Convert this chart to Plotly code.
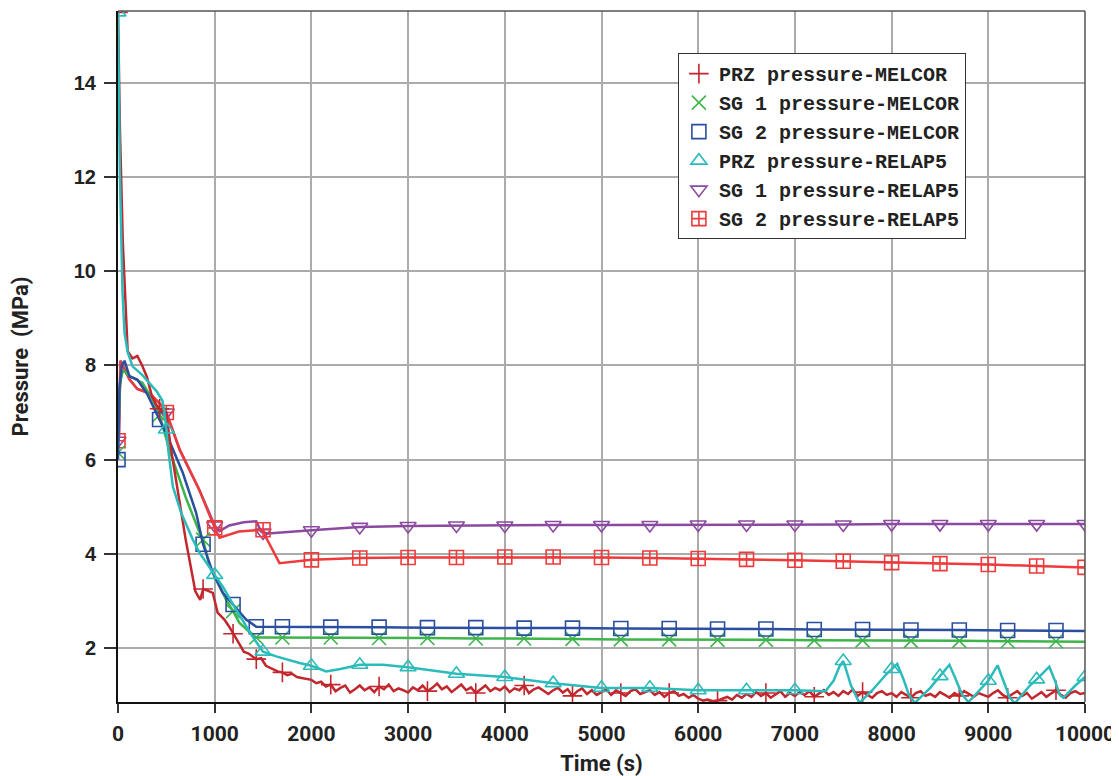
import numpy as np
import plotly.graph_objects as go

# ---------------- data ----------------
# PRZ pressure - MELCOR
prz_mel_t_early = [0, 20, 50, 100, 150, 200, 250, 300, 350, 400, 430, 500, 550, 600, 650, 700, 750, 800,
                   850, 880, 920, 980, 1030, 1100, 1150, 1190, 1250, 1300, 1350, 1430, 1480, 1530, 1600,
                   1650, 1700, 1750, 1800, 1850, 1900, 1950]
prz_mel_v_early = [15.5, 13.0, 10.6, 8.3, 8.15, 8.2, 8.0, 7.75, 7.35, 7.15, 7.08, 6.95, 6.2, 5.55, 4.85,
                   4.3, 3.75, 3.2, 3.02, 3.25, 3.22, 3.17, 2.75, 2.6, 2.45, 2.3, 2.1, 1.92, 1.88, 1.76,
                   1.78, 1.62, 1.55, 1.5, 1.48, 1.42, 1.45, 1.38, 1.36, 1.34]
prz_mel_t_late = list(range(2000, 10001, 50))
prz_mel_v_late = [
    1.32, 1.25, 1.28, 1.18, 1.22, 1.08, 1.15, 1.20, 1.05, 1.12,
    1.20, 1.10, 1.16, 1.06, 1.18, 1.12, 1.22, 1.08, 1.14, 1.10,
    1.05, 1.16, 1.10, 1.20, 1.08, 1.15, 1.24, 1.12, 1.18, 1.06,
    1.14, 1.22, 1.10, 1.16, 1.04, 1.12, 1.20, 1.08, 1.15, 1.10,
    1.18, 1.06, 1.14, 1.10, 1.20, 1.04, 1.12, 1.16, 1.08, 1.02,
    1.10, 1.15, 1.05, 1.12, 0.98, 1.08, 1.14, 1.02, 1.10, 1.00,
    1.06, 1.12, 1.00, 1.10, 1.04, 0.98, 1.08, 1.12, 1.02, 1.06,
    1.10, 1.00, 1.06, 0.96, 1.04, 1.08, 0.98, 1.02, 0.94, 1.00,
    0.92, 0.88, 0.90, 0.86, 0.88, 0.92, 0.96, 0.90, 1.00, 0.94,
    1.02, 0.96, 1.06, 0.98, 1.04, 0.94, 1.02, 1.08, 0.96, 1.04,
    0.98, 1.06, 1.00, 1.08, 0.96, 1.04, 1.10, 1.00, 1.06, 0.98,
    1.08, 1.02, 1.12, 0.98, 1.06, 1.00, 0.94, 1.04, 1.08, 1.00,
    1.04, 0.96, 1.06, 1.00, 0.94, 1.04, 1.08, 0.98, 1.02, 0.96,
    1.06, 1.00, 0.94, 1.04, 0.98, 1.08, 1.02, 0.96, 1.04, 1.00,
    0.96, 1.04, 1.10, 1.00, 0.94, 1.02, 1.08, 0.98, 1.04, 0.92,
    1.00, 1.06, 0.96, 1.04, 1.10, 1.00, 0.94, 1.04, 1.08, 1.02,
    1.04]
prz_mel_t = prz_mel_t_early + prz_mel_t_late
prz_mel_v = prz_mel_v_early + prz_mel_v_late

# SG 1 pressure - MELCOR
sg1_mel_t = [0, 20, 50, 119, 253, 357, 430, 532, 600, 700, 843, 880, 946, 1119, 1190, 1256, 1411, 1430,
             1500, 1700, 2200, 2700, 3200, 3700, 4200, 4700, 5200, 5700, 6200, 6700, 7200, 7700, 8200,
             8700, 9200, 9700, 10000]
sg1_mel_v = [6.15, 7.6, 7.9, 7.77, 7.63, 7.28, 6.95, 6.2, 5.8, 5.2, 4.45, 4.3, 3.73, 3.02, 2.78, 2.53,
             2.24, 2.22, 2.22, 2.22, 2.22, 2.21, 2.21, 2.2, 2.2, 2.19, 2.18, 2.18, 2.17, 2.17, 2.16,
             2.16, 2.15, 2.15, 2.14, 2.14, 2.13]

# SG 2 pressure - MELCOR
sg2_mel_t = [0, 15, 40, 67, 119, 200, 300, 395, 430, 500, 670, 808, 880, 980, 1084, 1190, 1325, 1430,
             1700, 2200, 2700, 3200, 3700, 4200, 4700, 5200, 5700, 6200, 6700, 7200, 7700, 8200, 8700,
             9200, 9700, 10000]
sg2_mel_v = [6.0, 7.5, 8.0, 8.1, 7.77, 7.7, 7.4, 7.0, 6.85, 6.55, 5.72, 4.87, 4.2, 3.6, 3.17, 2.92, 2.6,
             2.45, 2.45, 2.44, 2.44, 2.43, 2.43, 2.42, 2.42, 2.41, 2.41, 2.4, 2.4, 2.39, 2.39, 2.38,
             2.38, 2.37, 2.37, 2.36]

# PRZ pressure - RELAP5
prz_rel_t = [0, 20, 47, 67, 100, 150, 250, 330, 400, 460, 480, 500, 520, 567, 653, 774, 843, 1000, 1084,
             1222, 1394, 1500, 1636, 1877, 2000, 2153, 2300, 2500, 2738, 3000, 3428, 3500, 4000, 4500,
             5000, 5500, 6000, 6500, 7000, 7316, 7400, 7460, 7500, 7520, 7580, 7667, 7800, 7950, 8000,
             8058, 8120, 8180, 8240, 8400, 8500, 8598, 8660, 8730, 8795, 8950, 9000, 9096, 9160, 9220,
             9274, 9430, 9500, 9631, 9690, 9740, 9776, 9900, 10000]
prz_rel_v = [15.5, 12.0, 9.55, 8.7, 8.28, 7.98, 7.8, 7.6, 7.45, 7.25, 7.0, 6.64, 6.2, 5.43, 4.87, 4.3,
             4.02, 3.55, 3.3, 2.81, 2.23, 1.92, 1.82, 1.68, 1.62, 1.5, 1.55, 1.64, 1.64, 1.59, 1.47,
             1.45, 1.38, 1.25, 1.15, 1.15, 1.1, 1.1, 1.1, 1.08, 1.3, 1.6, 1.72, 1.6, 1.2, 0.83, 1.1,
             1.45, 1.55, 1.66, 1.35, 1.0, 0.83, 1.15, 1.4, 1.64, 1.35, 1.0, 0.85, 1.2, 1.3, 1.63, 1.3,
             0.95, 0.82, 1.2, 1.33, 1.6, 1.3, 1.0, 0.94, 1.2, 1.38]

# SG 1 pressure - RELAP5
sg1_rel_t = [0, 10, 25, 60, 120, 200, 330, 450, 500, 640, 840, 1000, 1050, 1150, 1300, 1430, 1480, 1500,
             1550, 2000, 2500, 3000, 3500, 4000, 4500, 5000, 5500, 6000, 6500, 7000, 7500, 8000, 8500,
             9000, 9500, 10000]
sg1_rel_v = [6.4, 6.5, 8.1, 7.95, 7.7, 7.5, 7.4, 7.15, 7.0, 6.2, 5.36, 4.6, 4.48, 4.6, 4.67, 4.69, 4.47,
             4.45, 4.43, 4.5, 4.57, 4.59, 4.6, 4.6, 4.61, 4.61, 4.61, 4.62, 4.62, 4.62, 4.62, 4.63, 4.63,
             4.63, 4.63, 4.63]

# SG 2 pressure - RELAP5
sg2_rel_t = [0, 10, 25, 60, 120, 200, 330, 450, 500, 640, 840, 1000, 1050, 1250, 1500, 1530, 1670, 2000,
             2500, 3000, 3500, 4000, 4500, 5000, 5500, 6000, 6500, 7000, 7500, 8000, 8500, 9000, 9500,
             10000]
sg2_rel_v = [6.4, 6.5, 8.1, 7.95, 7.7, 7.5, 7.4, 7.15, 7.0, 6.2, 5.36, 4.55, 4.34, 4.47, 4.51, 4.35, 3.8,
             3.87, 3.91, 3.92, 3.92, 3.93, 3.93, 3.92, 3.91, 3.9, 3.88, 3.86, 3.84, 3.81, 3.79, 3.77,
             3.74, 3.71]

# marker sampling times
melcor_marker_t = [0, 430, 880, 1190, 1430, 1700] + list(range(2200, 9701, 500))
relap_marker_t = list(range(0, 10001, 500))

x_ticks = list(range(0, 10001, 1000))
y_ticks = [2, 4, 6, 8, 10, 12, 14]

# ---------------- figure ----------------
fig = go.Figure()

series = [
    # name, t, v, color, symbol, marker times, rank
    ("SG 1 pressure-RELAP5", sg1_rel_t, sg1_rel_v, "#8b4aa0", "triangle-down-open", relap_marker_t, 5),
    ("SG 2 pressure-RELAP5", sg2_rel_t, sg2_rel_v, "#ee3b3b", "square-cross-open", relap_marker_t, 6),
    ("SG 1 pressure-MELCOR", sg1_mel_t, sg1_mel_v, "#3db54a", "x-thin-open", melcor_marker_t, 2),
    ("SG 2 pressure-MELCOR", sg2_mel_t, sg2_mel_v, "#2a4fa0", "square-open", melcor_marker_t, 3),
    ("PRZ pressure-MELCOR", prz_mel_t, prz_mel_v, "#c1272d", "cross-thin-open", melcor_marker_t, 1),
    ("PRZ pressure-RELAP5", prz_rel_t, prz_rel_v, "#2bbbbb", "triangle-up-open", relap_marker_t, 4),
]

for name, t, v, color, symbol, mt, rank in series:
    t = np.array(t, dtype=float)
    v = np.array(v, dtype=float)
    fig.add_trace(go.Scatter(x=t, y=v, mode="lines", line=dict(color=color, width=2.5),
                             showlegend=False, hoverinfo="skip"))
    mask = np.isin(t, mt)
    fig.add_trace(go.Scatter(x=t[mask], y=v[mask], mode="markers", name=name, legendrank=rank,
                             marker=dict(symbol=symbol, size=14, color=color,
                                         line=dict(color=color, width=1.6))))

cond = "Roboto, Liberation Sans, sans-serif"

# the page body adds an 8 px offset, so the figure is sized to the remaining viewport
fig.update_layout(
    width=1111, height=768,
    paper_bgcolor="white", plot_bgcolor="white",
    margin=dict(l=110, r=34, t=3, b=74),
    showlegend=True,
    legend=dict(x=0.579, y=0.939, xanchor="left", yanchor="top",
                bgcolor="white", bordercolor="#333333", borderwidth=1,
                font=dict(family="Liberation Mono, Courier New, monospace", size=20,
                          color="#222222", weight="bold"),
                tracegroupgap=0, itemwidth=30),
    xaxis=dict(range=[0, 10000], tickvals=x_ticks, ticktext=[str(x) for x in x_ticks],
               automargin=False, ticklabeloverflow="allow",
               showgrid=True, gridcolor="#ababab", gridwidth=1.5, zeroline=False,
               showline=True, linecolor="#111111", linewidth=2,
               ticks="outside", ticklen=9, tickwidth=1.5, tickcolor="#333333",
               ticklabelstandoff=3,
               tickfont=dict(family=cond, size=21, color="#222222", weight="bold"),
               title=dict(text="Time (s)", standoff=12,
                          font=dict(family=cond, size=22, color="#222222", weight="bold"))),
    yaxis=dict(range=[0.85, 15.53], tickvals=y_ticks, ticktext=[str(y) for y in y_ticks],
               automargin=False,
               showgrid=True, gridcolor="#ababab", gridwidth=1.5, zeroline=False,
               showline=True, linecolor="#111111", linewidth=2,
               ticks="outside", ticklen=12, tickwidth=1.5, tickcolor="#333333",
               ticklabelstandoff=4,
               tickfont=dict(family="Liberation Sans, Arial, sans-serif", size=20,
                             color="#222222", weight="bold"),
               title=dict(text="Pressure\u00a0\u00a0(MPa)", standoff=48,
                          font=dict(family=cond, size=22, color="#222222", weight="bold"))),
    shapes=[
        dict(type="line", xref="paper", yref="paper", x0=0, x1=1, y0=1, y1=1,
             line=dict(color="#555555", width=1.5)),
        dict(type="line", xref="paper", yref="paper", x0=1, x1=1, y0=0, y1=1,
             line=dict(color="#555555", width=1.5)),
    ],
)

fig.write_html("out.html")
